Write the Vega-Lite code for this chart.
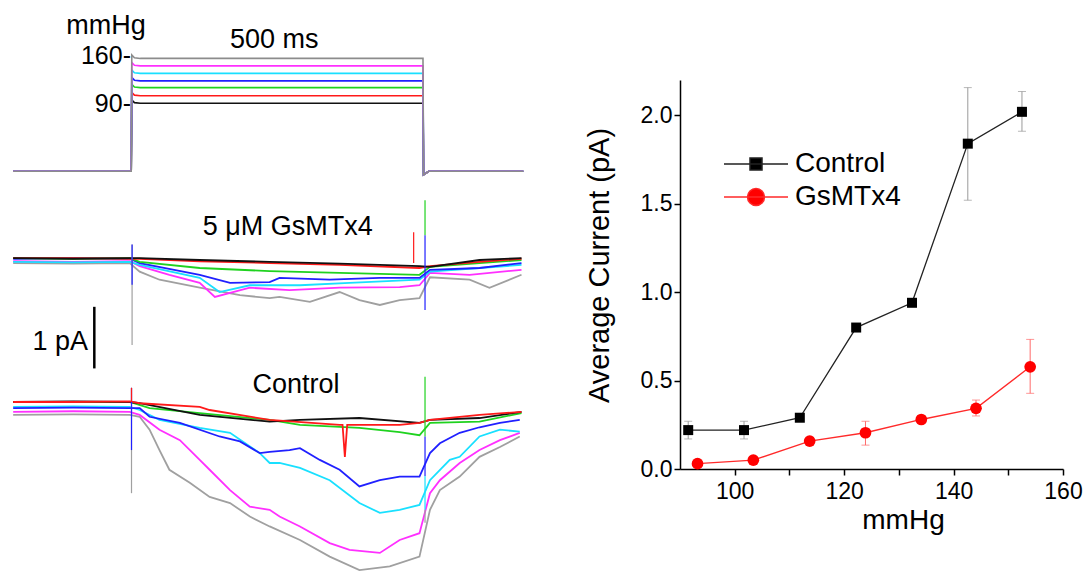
{
  "$schema": "https://vega.github.io/schema/vega-lite/v6.json",
  "width": 1087,
  "height": 585,
  "autosize": "none",
  "padding": 0,
  "background": "white",
  "config": {
    "font": "Liberation Sans",
    "view": {"stroke": null},
    "axis": {"grid": false, "labelColor": "black", "titleColor": "black", "tickColor": "black", "domainColor": "black", "titleFontWeight": "normal"},
    "text": {"font": "Liberation Sans", "color": "black"}
  },
  "datasets": {
    "pressure": [
      {"k":"90","t":-203,"v":-10},{"k":"90","t":-0.5,"v":-10},{"k":"90","t":0.5,"v":95},{"k":"90","t":5,"v":91},{"k":"90","t":15,"v":90},{"k":"90","t":500,"v":90},{"k":"90","t":501,"v":-15},{"k":"90","t":510,"v":-10},{"k":"90","t":672,"v":-10},
      {"k":"101","t":-203,"v":-10},{"k":"101","t":-0.5,"v":-10},{"k":"101","t":0.5,"v":106},{"k":"101","t":5,"v":102},{"k":"101","t":15,"v":101},{"k":"101","t":500,"v":101},{"k":"101","t":501,"v":-15},{"k":"101","t":510,"v":-10},{"k":"101","t":672,"v":-10},
      {"k":"113","t":-203,"v":-10},{"k":"113","t":-0.5,"v":-10},{"k":"113","t":0.5,"v":118},{"k":"113","t":5,"v":114},{"k":"113","t":15,"v":113},{"k":"113","t":500,"v":113},{"k":"113","t":501,"v":-15},{"k":"113","t":510,"v":-10},{"k":"113","t":672,"v":-10},
      {"k":"123","t":-203,"v":-10},{"k":"123","t":-0.5,"v":-10},{"k":"123","t":0.5,"v":128},{"k":"123","t":5,"v":124},{"k":"123","t":15,"v":123},{"k":"123","t":500,"v":123},{"k":"123","t":501,"v":-15},{"k":"123","t":510,"v":-10},{"k":"123","t":672,"v":-10},
      {"k":"134","t":-203,"v":-10},{"k":"134","t":-0.5,"v":-10},{"k":"134","t":0.5,"v":139},{"k":"134","t":5,"v":135},{"k":"134","t":15,"v":134},{"k":"134","t":500,"v":134},{"k":"134","t":501,"v":-15},{"k":"134","t":510,"v":-10},{"k":"134","t":672,"v":-10},
      {"k":"145","t":-203,"v":-10},{"k":"145","t":-0.5,"v":-10},{"k":"145","t":0.5,"v":150},{"k":"145","t":5,"v":146},{"k":"145","t":15,"v":145},{"k":"145","t":500,"v":145},{"k":"145","t":501,"v":-15},{"k":"145","t":510,"v":-10},{"k":"145","t":672,"v":-10},
      {"k":"156","t":-203,"v":-10},{"k":"156","t":-0.5,"v":-10},{"k":"156","t":0.5,"v":161},{"k":"156","t":5,"v":157},{"k":"156","t":15,"v":156},{"k":"156","t":500,"v":156},{"k":"156","t":501,"v":-15},{"k":"156","t":510,"v":-10},{"k":"156","t":672,"v":-10}
    ],
    "gsm": [
      {"k":"156","t":-203,"v":-0.05},{"k":"156","t":-100,"v":-0.06},{"k":"156","t":-3,"v":-0.05},{"k":"156","t":14,"v":-0.19},{"k":"156","t":48,"v":-0.32},{"k":"156","t":117,"v":-0.45},{"k":"156","t":186,"v":-0.57},{"k":"156","t":237,"v":-0.62},{"k":"156","t":254,"v":-0.6},{"k":"156","t":306,"v":-0.68},{"k":"156","t":357,"v":-0.52},{"k":"156","t":391,"v":-0.65},{"k":"156","t":426,"v":-0.73},{"k":"156","t":460,"v":-0.65},{"k":"156","t":494,"v":-0.62},{"k":"156","t":512,"v":-0.28},{"k":"156","t":580,"v":-0.32},{"k":"156","t":614,"v":-0.45},{"k":"156","t":669,"v":-0.24},
      {"k":"145","t":-203,"v":-0.02},{"k":"145","t":-100,"v":-0.03},{"k":"145","t":-3,"v":-0.02},{"k":"145","t":14,"v":-0.1},{"k":"145","t":65,"v":-0.24},{"k":"145","t":117,"v":-0.37},{"k":"145","t":143,"v":-0.6},{"k":"145","t":203,"v":-0.45},{"k":"145","t":271,"v":-0.49},{"k":"145","t":357,"v":-0.45},{"k":"145","t":460,"v":-0.44},{"k":"145","t":494,"v":-0.41},{"k":"145","t":512,"v":-0.21},{"k":"145","t":580,"v":-0.24},{"k":"145","t":669,"v":-0.16},
      {"k":"134","t":-203,"v":-0.03},{"k":"134","t":-100,"v":-0.04},{"k":"134","t":-3,"v":-0.03},{"k":"134","t":14,"v":-0.08},{"k":"134","t":117,"v":-0.29},{"k":"134","t":151,"v":-0.52},{"k":"134","t":203,"v":-0.41},{"k":"134","t":289,"v":-0.41},{"k":"134","t":374,"v":-0.37},{"k":"134","t":494,"v":-0.32},{"k":"134","t":512,"v":-0.19},{"k":"134","t":597,"v":-0.13},{"k":"134","t":669,"v":-0.08},
      {"k":"123","t":-203,"v":0.02},{"k":"123","t":-100,"v":0.03},{"k":"123","t":-3,"v":0.02},{"k":"123","t":14,"v":-0.05},{"k":"123","t":117,"v":-0.24},{"k":"123","t":169,"v":-0.37},{"k":"123","t":237,"v":-0.36},{"k":"123","t":254,"v":-0.29},{"k":"123","t":340,"v":-0.32},{"k":"123","t":426,"v":-0.29},{"k":"123","t":494,"v":-0.29},{"k":"123","t":512,"v":-0.16},{"k":"123","t":597,"v":-0.13},{"k":"123","t":669,"v":-0.05},
      {"k":"113","t":-203,"v":0.03},{"k":"113","t":-100,"v":0.02},{"k":"113","t":-3,"v":0.03},{"k":"113","t":14,"v":-0.03},{"k":"113","t":117,"v":-0.13},{"k":"113","t":237,"v":-0.18},{"k":"113","t":357,"v":-0.21},{"k":"113","t":494,"v":-0.24},{"k":"113","t":512,"v":-0.11},{"k":"113","t":597,"v":-0.05},{"k":"113","t":669,"v":0},
      {"k":"101","t":-203,"v":0.03},{"k":"101","t":-100,"v":0.03},{"k":"101","t":-3,"v":0.02},{"k":"101","t":14,"v":0.02},{"k":"101","t":117,"v":-0.02},{"k":"101","t":237,"v":-0.05},{"k":"101","t":357,"v":-0.08},{"k":"101","t":494,"v":-0.13},{"k":"101","t":512,"v":-0.1},{"k":"101","t":597,"v":-0.03},{"k":"101","t":669,"v":0.02},
      {"k":"90","t":-203,"v":0.03},{"k":"90","t":-100,"v":0.02},{"k":"90","t":-3,"v":0.03},{"k":"90","t":14,"v":0.03},{"k":"90","t":117,"v":0},{"k":"90","t":237,"v":-0.03},{"k":"90","t":357,"v":-0.06},{"k":"90","t":494,"v":-0.1},{"k":"90","t":512,"v":-0.11},{"k":"90","t":597,"v":0},{"k":"90","t":669,"v":0.03}
    ],
    "gsmArt": [
      {"k":"156","t":1,"y1":0.25,"y2":-1.38},
      {"k":"123","t":1,"y1":0.25,"y2":-0.4},
      {"k":"101","t":484,"y1":0.45,"y2":-0.05},
      {"k":"113","t":503.5,"y1":0.97,"y2":0.4},
      {"k":"123","t":503.5,"y1":0.4,"y2":-0.81}
    ],
    "ctrl": [
      {"k":"156","t":-203,"v":-0.21},{"k":"156","t":-100,"v":-0.2},{"k":"156","t":-3,"v":-0.21},{"k":"156","t":14,"v":-0.24},{"k":"156","t":31,"v":-0.45},{"k":"156","t":48,"v":-0.78},{"k":"156","t":65,"v":-1.1},{"k":"156","t":100,"v":-1.31},{"k":"156","t":134,"v":-1.54},{"k":"156","t":169,"v":-1.64},{"k":"156","t":203,"v":-1.86},{"k":"156","t":237,"v":-2.02},{"k":"156","t":289,"v":-2.24},{"k":"156","t":340,"v":-2.51},{"k":"156","t":391,"v":-2.73},{"k":"156","t":443,"v":-2.67},{"k":"156","t":494,"v":-2.51},{"k":"156","t":512,"v":-1.75},{"k":"156","t":529,"v":-1.43},{"k":"156","t":563,"v":-1.21},{"k":"156","t":597,"v":-0.89},{"k":"156","t":632,"v":-0.73},{"k":"156","t":666,"v":-0.56},
      {"k":"145","t":-203,"v":-0.16},{"k":"145","t":-100,"v":-0.15},{"k":"145","t":-3,"v":-0.16},{"k":"145","t":14,"v":-0.21},{"k":"145","t":48,"v":-0.45},{"k":"145","t":83,"v":-0.62},{"k":"145","t":117,"v":-0.94},{"k":"145","t":134,"v":-1.1},{"k":"145","t":169,"v":-1.43},{"k":"145","t":203,"v":-1.7},{"k":"145","t":237,"v":-1.75},{"k":"145","t":254,"v":-1.86},{"k":"145","t":289,"v":-2.02},{"k":"145","t":340,"v":-2.29},{"k":"145","t":374,"v":-2.4},{"k":"145","t":426,"v":-2.45},{"k":"145","t":460,"v":-2.24},{"k":"145","t":494,"v":-2.13},{"k":"145","t":512,"v":-1.48},{"k":"145","t":529,"v":-1.27},{"k":"145","t":563,"v":-0.99},{"k":"145","t":597,"v":-0.78},{"k":"145","t":632,"v":-0.62},{"k":"145","t":666,"v":-0.5},
      {"k":"134","t":-203,"v":-0.08},{"k":"134","t":-100,"v":-0.07},{"k":"134","t":-3,"v":-0.08},{"k":"134","t":14,"v":-0.13},{"k":"134","t":48,"v":-0.29},{"k":"134","t":117,"v":-0.42},{"k":"134","t":169,"v":-0.5},{"k":"134","t":220,"v":-0.83},{"k":"134","t":237,"v":-0.99},{"k":"134","t":254,"v":-0.99},{"k":"134","t":289,"v":-1.07},{"k":"134","t":340,"v":-1.27},{"k":"134","t":391,"v":-1.64},{"k":"134","t":426,"v":-1.8},{"k":"134","t":460,"v":-1.75},{"k":"134","t":494,"v":-1.67},{"k":"134","t":512,"v":-1.27},{"k":"134","t":546,"v":-0.94},{"k":"134","t":563,"v":-0.89},{"k":"134","t":597,"v":-0.56},{"k":"134","t":632,"v":-0.45},{"k":"134","t":666,"v":-0.48},
      {"k":"123","t":-203,"v":-0.1},{"k":"123","t":-100,"v":-0.09},{"k":"123","t":-3,"v":-0.1},{"k":"123","t":14,"v":-0.1},{"k":"123","t":31,"v":-0.24},{"k":"123","t":83,"v":-0.34},{"k":"123","t":151,"v":-0.56},{"k":"123","t":186,"v":-0.64},{"k":"123","t":220,"v":-0.83},{"k":"123","t":237,"v":-0.81},{"k":"123","t":271,"v":-0.78},{"k":"123","t":289,"v":-0.75},{"k":"123","t":323,"v":-0.94},{"k":"123","t":357,"v":-1.1},{"k":"123","t":391,"v":-1.37},{"k":"123","t":426,"v":-1.27},{"k":"123","t":460,"v":-1.21},{"k":"123","t":494,"v":-1.21},{"k":"123","t":512,"v":-0.83},{"k":"123","t":529,"v":-0.67},{"k":"123","t":563,"v":-0.5},{"k":"123","t":597,"v":-0.41},{"k":"123","t":632,"v":-0.34},{"k":"123","t":666,"v":-0.29},
      {"k":"113","t":-203,"v":0},{"k":"113","t":-100,"v":0},{"k":"113","t":-3,"v":0},{"k":"113","t":31,"v":-0.1},{"k":"113","t":117,"v":-0.18},{"k":"113","t":237,"v":-0.29},{"k":"113","t":289,"v":-0.37},{"k":"113","t":391,"v":-0.42},{"k":"113","t":460,"v":-0.49},{"k":"113","t":494,"v":-0.54},{"k":"113","t":512,"v":-0.34},{"k":"113","t":597,"v":-0.32},{"k":"113","t":669,"v":-0.18},
      {"k":"90","t":-203,"v":0},{"k":"90","t":-100,"v":0.01},{"k":"90","t":-3,"v":0},{"k":"90","t":14,"v":-0.02},{"k":"90","t":117,"v":-0.21},{"k":"90","t":237,"v":-0.32},{"k":"90","t":289,"v":-0.29},{"k":"90","t":391,"v":-0.26},{"k":"90","t":494,"v":-0.34},{"k":"90","t":512,"v":-0.29},{"k":"90","t":597,"v":-0.26},{"k":"90","t":669,"v":-0.16},
      {"k":"101","t":-203,"v":0},{"k":"101","t":-100,"v":0},{"k":"101","t":-3,"v":0.01},{"k":"101","t":14,"v":-0.02},{"k":"101","t":117,"v":-0.08},{"k":"101","t":134,"v":-0.13},{"k":"101","t":237,"v":-0.29},{"k":"101","t":357,"v":-0.37},{"k":"101","t":362,"v":-0.37},{"k":"101","t":366,"v":-0.89},{"k":"101","t":370,"v":-0.37},{"k":"101","t":460,"v":-0.37},{"k":"101","t":494,"v":-0.34},{"k":"101","t":512,"v":-0.29},{"k":"101","t":597,"v":-0.21},{"k":"101","t":669,"v":-0.16}
    ],
    "ctrlArt": [
      {"k":"156","t":0,"y1":0.23,"y2":-1.48},
      {"k":"123","t":0,"y1":0.23,"y2":-0.78},
      {"k":"101","t":0,"y1":0.23,"y2":0},
      {"k":"113","t":503.5,"y1":0.41,"y2":-0.56},
      {"k":"123","t":503.5,"y1":-0.56,"y2":-1.2},
      {"k":"134","t":503.5,"y1":-1.2,"y2":-1.75},
      {"k":"156","t":503.5,"y1":-1.75,"y2":-1.96}
    ],
    "means": [
      {"c":"Control","p":91.5,"m":0.22},{"c":"Control","p":101.7,"m":0.22},{"c":"Control","p":111.9,"m":0.29},{"c":"Control","p":122.2,"m":0.8},{"c":"Control","p":132.4,"m":0.94},{"c":"Control","p":142.6,"m":1.84},{"c":"Control","p":152.5,"m":2.02},
      {"c":"GsMTx4","p":93.2,"m":0.03},{"c":"GsMTx4","p":103.4,"m":0.05},{"c":"GsMTx4","p":113.7,"m":0.158},{"c":"GsMTx4","p":123.9,"m":0.205},{"c":"GsMTx4","p":134.1,"m":0.28},{"c":"GsMTx4","p":144.1,"m":0.343},{"c":"GsMTx4","p":154.0,"m":0.578}
    ],
    "errs": [
      {"c":"Control","p":91.5,"lo":0.17,"hi":0.27},{"c":"Control","p":101.7,"lo":0.17,"hi":0.27},{"c":"Control","p":142.6,"lo":1.52,"hi":2.157},{"c":"Control","p":152.5,"lo":1.91,"hi":2.135},
      {"c":"GsMTx4","p":123.9,"lo":0.135,"hi":0.27},{"c":"GsMTx4","p":144.1,"lo":0.3,"hi":0.39},{"c":"GsMTx4","p":154.0,"lo":0.428,"hi":0.733}
    ]
  },
  "resolve": {
    "scale": {"x": "independent", "y": "independent", "stroke": "independent", "color": "independent", "fill": "independent", "shape": "independent", "size": "independent"},
    "axis": {"x": "independent", "y": "independent"},
    "legend": {"stroke": "independent", "fill": "independent", "shape": "independent", "color": "independent", "size": "independent"}
  },
  "layer": [
    {
      "layer": [
        {
          "data": {"name": "pressure"},
          "mark": {"type": "line", "strokeWidth": 1.6},
          "encoding": {
            "x": {"field": "t", "type": "quantitative", "scale": {"domain": [-205, 675], "range": [12, 525], "nice": false, "zero": false}, "axis": null},
            "y": {"field": "v", "type": "quantitative", "scale": {"domain": [-10, 160], "range": [171.3, 55.7], "nice": false, "zero": false},
              "axis": {"orient": "left", "offset": -131.5, "values": [90, 160], "labelExpr": "datum.label + '-'", "ticks": false, "domain": false, "labelFontSize": 25, "labelPadding": 1,
                "title": "mmHg", "titleAngle": 0, "titleAlign": "center", "titleBaseline": "alphabetic", "titleX": -26, "titleY": 33, "titleFontSize": 27}},
            "stroke": {"field": "k", "type": "nominal", "legend": null,
              "scale": {"domain": ["90","101","113","123","134","145","156"], "range": ["#111111","#ff1a1a","#1fd21f","#2020ff","#19e0ff","#ff30ff","#8c8c8c"]}}
          }
        },
        {
          "data": {"values": [{"txt": "500 ms"}]},
          "mark": {"type": "text", "fontSize": 27, "baseline": "middle", "align": "center"},
          "encoding": {
            "x": {"datum": 245, "type": "quantitative"},
            "y": {"datum": 183, "type": "quantitative"},
            "text": {"field": "txt"}
          }
        }
      ]
    },
    {
      "layer": [
        {
          "data": {"name": "gsm"},
          "mark": {"type": "line", "strokeWidth": 1.8},
          "encoding": {
            "x": {"field": "t", "type": "quantitative", "scale": {"domain": [-205, 675], "range": [12, 525], "nice": false, "zero": false}, "axis": null},
            "y": {"field": "v", "type": "quantitative", "scale": {"domain": [-1, 0], "range": [321.6, 260], "nice": false, "zero": false}, "axis": null},
            "stroke": {"field": "k", "type": "nominal", "legend": null,
              "scale": {"domain": ["90","101","113","123","134","145","156"], "range": ["#111111","#ff1a1a","#1fd21f","#2020ff","#19e0ff","#ff30ff","#a0a0a0"]}}
          }
        },
        {
          "data": {"name": "gsmArt"},
          "mark": {"type": "rule", "strokeWidth": 1.2},
          "encoding": {
            "x": {"field": "t", "type": "quantitative", "axis": null},
            "y": {"field": "y1", "type": "quantitative", "axis": null},
            "y2": {"field": "y2"},
            "stroke": {"field": "k", "type": "nominal", "legend": null}
          }
        },
        {
          "data": {"values": [{"txt": "5 μM GsMTx4"}]},
          "mark": {"type": "text", "fontSize": 27, "baseline": "middle", "align": "center"},
          "encoding": {
            "x": {"datum": 268, "type": "quantitative", "axis": null},
            "y": {"datum": 0.53, "type": "quantitative", "axis": null},
            "text": {"field": "txt"}
          }
        },
        {
          "data": {"values": [{"txt": "1 pA"}]},
          "layer": [
            {
              "mark": {"type": "text", "fontSize": 27, "baseline": "middle", "align": "right"},
              "encoding": {
                "x": {"datum": -74.6, "type": "quantitative", "axis": null},
                "y": {"datum": -1.33, "type": "quantitative", "axis": null},
                "text": {"field": "txt"}
              }
            },
            {
              "mark": {"type": "rule", "strokeWidth": 2.5, "color": "black"},
              "encoding": {
                "x": {"datum": -63.8, "type": "quantitative", "axis": null},
                "y": {"datum": -0.76, "type": "quantitative", "axis": null},
                "y2": {"datum": -1.76}
              }
            }
          ]
        }
      ]
    },
    {
      "layer": [
        {
          "data": {"name": "ctrl"},
          "mark": {"type": "line", "strokeWidth": 1.8},
          "encoding": {
            "x": {"field": "t", "type": "quantitative", "scale": {"domain": [-205, 675], "range": [12, 525], "nice": false, "zero": false}, "axis": null},
            "y": {"field": "v", "type": "quantitative", "scale": {"domain": [-1, 0], "range": [463.6, 402], "nice": false, "zero": false}, "axis": null},
            "stroke": {"field": "k", "type": "nominal", "legend": null,
              "scale": {"domain": ["90","101","113","123","134","145","156"], "range": ["#111111","#ff1a1a","#1fd21f","#2020ff","#19e0ff","#ff30ff","#a0a0a0"]}}
          }
        },
        {
          "data": {"name": "ctrlArt"},
          "mark": {"type": "rule", "strokeWidth": 1.2},
          "encoding": {
            "x": {"field": "t", "type": "quantitative", "axis": null},
            "y": {"field": "y1", "type": "quantitative", "axis": null},
            "y2": {"field": "y2"},
            "stroke": {"field": "k", "type": "nominal", "legend": null}
          }
        },
        {
          "data": {"values": [{"txt": "Control"}]},
          "mark": {"type": "text", "fontSize": 27, "baseline": "middle", "align": "center"},
          "encoding": {
            "x": {"datum": 282, "type": "quantitative", "axis": null},
            "y": {"datum": 0.28, "type": "quantitative", "axis": null},
            "text": {"field": "txt"}
          }
        }
      ]
    },
    {
      "data": {"name": "errs"},
      "mark": {"type": "rule", "strokeWidth": 1},
      "encoding": {
        "x": {"field": "p", "type": "quantitative", "scale": {"domain": [90, 160], "range": [680, 1063], "nice": false, "zero": false},
          "axis": {"orient": "bottom", "offset": -116, "values": [100, 110, 120, 130, 140, 150, 160], "labelExpr": "datum.value % 20 === 0 ? datum.label : ''",
            "tickSize": 6, "tickWidth": 1.5, "domainWidth": 1.5, "labelFontSize": 23, "labelBaseline": "alphabetic", "labelPadding": 23, "labelFlush": false, "labelOverlap": false,
            "title": "mmHg", "titleFontSize": 28, "titleX": 903, "titleY": 59, "titleBaseline": "alphabetic", "titleAlign": "center"}},
        "y": {"field": "lo", "type": "quantitative", "scale": {"domain": [0, 2.2], "range": [469, 80], "nice": false, "zero": false},
          "axis": {"orient": "left", "offset": -680, "values": [0, 0.5, 1, 1.5, 2], "format": ".1f", "tickSize": 6, "tickWidth": 1.5, "domainWidth": 1.5,
            "labelFontSize": 23, "labelPadding": 2, "title": "Average Current (pA)", "titleFontSize": 29, "titlePadding": 26, "titleY": 265}},
        "y2": {"field": "hi"},
        "color": {"field": "c", "type": "nominal", "legend": null, "scale": {"domain": ["Control", "GsMTx4"], "range": ["#9a9a9a", "#ff6a6a"]}}
      }
    },
    {
      "data": {"name": "errs"},
      "mark": {"type": "tick", "orient": "horizontal", "size": 8, "thickness": 1},
      "encoding": {
        "x": {"field": "p", "type": "quantitative", "scale": {"domain": [90, 160], "range": [680, 1063], "nice": false, "zero": false}, "axis": null},
        "y": {"field": "lo", "type": "quantitative", "scale": {"domain": [0, 2.2], "range": [469, 80], "nice": false, "zero": false}, "axis": null},
        "color": {"field": "c", "type": "nominal", "legend": null, "scale": {"domain": ["Control", "GsMTx4"], "range": ["#9a9a9a", "#ff6a6a"]}}
      }
    },
    {
      "data": {"name": "errs"},
      "mark": {"type": "tick", "orient": "horizontal", "size": 8, "thickness": 1},
      "encoding": {
        "x": {"field": "p", "type": "quantitative", "scale": {"domain": [90, 160], "range": [680, 1063], "nice": false, "zero": false}, "axis": null},
        "y": {"field": "hi", "type": "quantitative", "scale": {"domain": [0, 2.2], "range": [469, 80], "nice": false, "zero": false}, "axis": null},
        "color": {"field": "c", "type": "nominal", "legend": null, "scale": {"domain": ["Control", "GsMTx4"], "range": ["#9a9a9a", "#ff6a6a"]}}
      }
    },
    {
      "data": {"name": "means"},
      "mark": {"type": "line", "strokeWidth": 1.3},
      "encoding": {
        "x": {"field": "p", "type": "quantitative", "scale": {"domain": [90, 160], "range": [680, 1063], "nice": false, "zero": false}, "axis": null},
        "y": {"field": "m", "type": "quantitative", "scale": {"domain": [0, 2.2], "range": [469, 80], "nice": false, "zero": false}, "axis": null},
        "stroke": {"field": "c", "type": "nominal",
          "scale": {"domain": ["Control", "GsMTx4"], "range": ["#222222", "#ff2a2a"]},
          "legend": {"orient": "none", "legendX": 742, "legendY": 150, "symbolType": "M-6.4,0H6.4", "symbolSize": 100, "symbolStrokeWidth": 1.5,
            "labelFontSize": 28, "labelOffset": 25, "rowPadding": 5, "title": null, "padding": 0, "labelColor": "black", "labelFont": "Liberation Sans",
            "encode": {"symbols": {"update": {
              "shape": {"signal": "datum.value === 'Control' ? 'M-6.4,0H6.4M-1.2,-1.2H1.2V1.2H-1.2Z' : 'M-6.4,0H6.4M-1.7,0A1.7,1.7,0,1,0,1.7,0A1.7,1.7,0,1,0,-1.7,0Z'"},
              "fill": {"signal": "datum.value === 'Control' ? '#000000' : '#ff0000'"}
            }}}}}
      }
    },
    {
      "data": {"name": "means"},
      "mark": {"type": "point", "filled": true, "opacity": 1},
      "encoding": {
        "x": {"field": "p", "type": "quantitative", "scale": {"domain": [90, 160], "range": [680, 1063], "nice": false, "zero": false}, "axis": null},
        "y": {"field": "m", "type": "quantitative", "scale": {"domain": [0, 2.2], "range": [469, 80], "nice": false, "zero": false}, "axis": null},
        "fill": {"field": "c", "type": "nominal", "legend": null, "scale": {"domain": ["Control", "GsMTx4"], "range": ["#000000", "#ff0000"]}},
        "shape": {"field": "c", "type": "nominal", "legend": null, "scale": {"domain": ["Control", "GsMTx4"], "range": ["square", "circle"]}},
        "size": {"field": "c", "type": "nominal", "legend": null, "scale": {"domain": ["Control", "GsMTx4"], "range": [100, 137]}}
      }
    }
  ]
}
